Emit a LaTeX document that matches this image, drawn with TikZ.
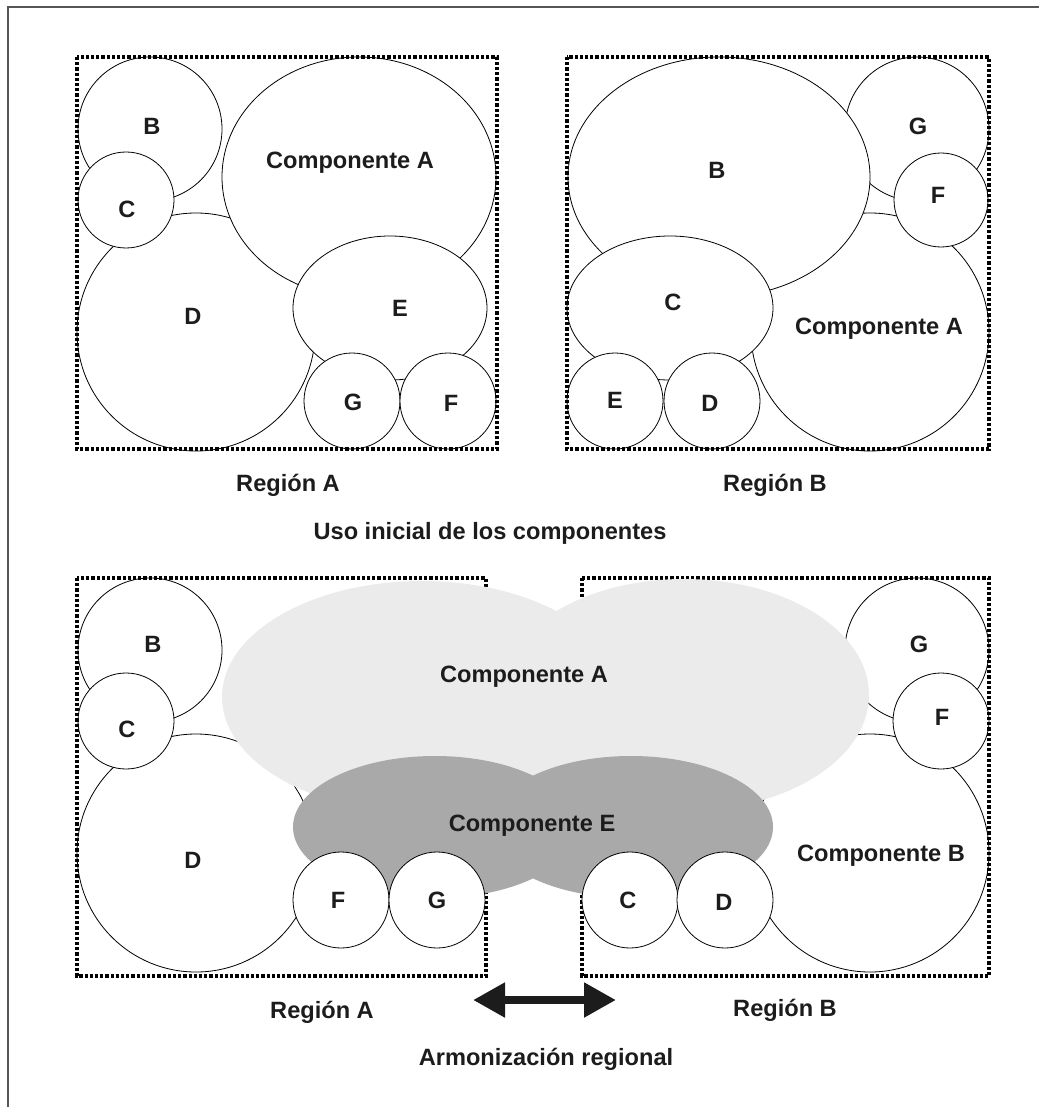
\documentclass[tikz,border=0pt]{standalone}
\usepackage{fontspec}
\setmainfont{Liberation Sans}
\usetikzlibrary{arrows.meta}
\definecolor{lgray}{HTML}{EBEBEB}
\definecolor{dgray}{HTML}{A9A9A9}
\definecolor{txt}{HTML}{1C1C1C}
\definecolor{framec}{HTML}{555555}
\begin{document}
\begin{tikzpicture}[x=1pt,y=-1pt,
  comp/.style={draw=black, fill=white, line width=0.8pt},
  region/.style={draw=black, line width=3.2pt, dash pattern=on 3.2pt off 2pt},
  lbl/.style={font=\bfseries\fontsize{23.6}{28}\selectfont, text=txt, anchor=base, inner sep=0pt},
  bigarrow/.style={draw=txt, line width=8pt, {Triangle[length=32pt,width=33pt]}-{Triangle[length=32pt,width=33pt]}},
]
\useasboundingbox (0,0) rectangle (1039,1107);
\draw[framec, line width=1.4pt] (1039,7) -- (8,7) -- (8,1107);

% ===== Top, Region A =====
\draw[comp] (150,129) circle[radius=72pt];
\draw[comp] (196,332) circle[radius=119pt];
\draw[comp] (126,200) circle[radius=48pt];
\draw[comp] (359,177) ellipse[x radius=137pt, y radius=120pt];
\draw[comp] (390,308) ellipse[x radius=97pt, y radius=72pt];
\draw[comp] (352,401) circle[radius=48pt];
\draw[comp] (448,401) circle[radius=48pt];
\draw[region] (77,57) rectangle (497,449);

% ===== Top, Region B =====
\draw[comp] (917,129) circle[radius=72pt];
\draw[comp] (870,332) circle[radius=119pt];
\draw[comp] (719,177) ellipse[x radius=151pt, y radius=120pt];
\draw[comp] (670,308) ellipse[x radius=103pt, y radius=72pt];
\draw[comp] (941,200) circle[radius=47pt];
\draw[comp] (615,401) circle[radius=48pt];
\draw[comp] (712,401) circle[radius=48pt];
\draw[region] (567,57) rectangle (989,449);

% ===== Bottom =====
\draw[comp] (150,650) circle[radius=72pt];
\draw[comp] (196,853) circle[radius=119pt];
\draw[comp] (126,721) circle[radius=48pt];
\draw[comp] (917,650) circle[radius=72pt];
\draw[comp] (870,853) circle[radius=119pt];
\draw[comp] (941,721) circle[radius=48pt];
\draw[region] (77,578) rectangle (486,976);
\draw[region] (582,578) rectangle (989,976);
% Componente A (merged)
\fill[lgray] (422,697) ellipse[x radius=200pt, y radius=116pt];
\fill[lgray] (684,695) ellipse[x radius=185pt, y radius=116pt];
% Componente E (merged)
\fill[dgray] (435,827) ellipse[x radius=142pt, y radius=71pt];
\fill[dgray] (631,827) ellipse[x radius=142pt, y radius=71pt];
\draw[comp] (341,900) circle[radius=48pt];
\draw[comp] (437,900) circle[radius=48pt];
\draw[comp] (630,900) circle[radius=48pt];
\draw[comp] (725,900) circle[radius=48pt];

% ===== Labels =====
\node[lbl] (tAB) at (152,135) {B};
\node[lbl] (tAC) at (127,218) {C};
\node[lbl] (tAA) at (350,168.5) {Componente A};
\node[lbl] (tAD) at (193,324) {D};
\node[lbl] (tAE) at (400,316) {E};
\node[lbl] (tAG) at (353,410) {G};
\node[lbl] (tAF) at (451,411) {F};

\node[lbl] (tBG) at (918,135) {G};
\node[lbl] (tBF) at (938,203.5) {F};
\node[lbl] (tBB) at (717,179) {B};
\node[lbl] (tBC) at (673,310) {C};
\node[lbl] (tBA) at (879,334.5) {Componente A};
\node[lbl] (tBE) at (615,408.5) {E};
\node[lbl] (tBD) at (710,411) {D};

\node[lbl] (regA1) at (288,491.5) {Región A};
\node[lbl] (regB1) at (775,491.5) {Región B};
\node[lbl] (uso) at (490,539.5) {Uso inicial de los componentes};

\node[lbl] (bAB) at (153,652) {B};
\node[lbl] (bAC) at (127,737) {C};
\node[lbl] (bAD) at (193,868.5) {D};
\node[lbl] (bcA) at (524,682.5) {Componente A};
\node[lbl] (bcE) at (532,831) {Componente E};
\node[lbl] (bAF) at (338,908.5) {F};
\node[lbl] (bAG) at (437,908.5) {G};
\node[lbl] (bBC) at (628,908.5) {C};
\node[lbl] (bBD) at (724,910) {D};
\node[lbl] (bBG) at (919,652) {G};
\node[lbl] (bBF) at (942,725) {F};
\node[lbl] (bcB) at (881,861) {Componente B};

\node[lbl] (regA2) at (322,1018.5) {Región A};
\node[lbl] (regB2) at (785,1016.5) {Región B};
\node[lbl] (arm) at (546,1065.5) {Armonización regional};

\coordinate (arL) at (473,1000);
\coordinate (arR) at (616,1000);
\draw[bigarrow] (arL) -- (arR);
\end{tikzpicture}
\end{document}
